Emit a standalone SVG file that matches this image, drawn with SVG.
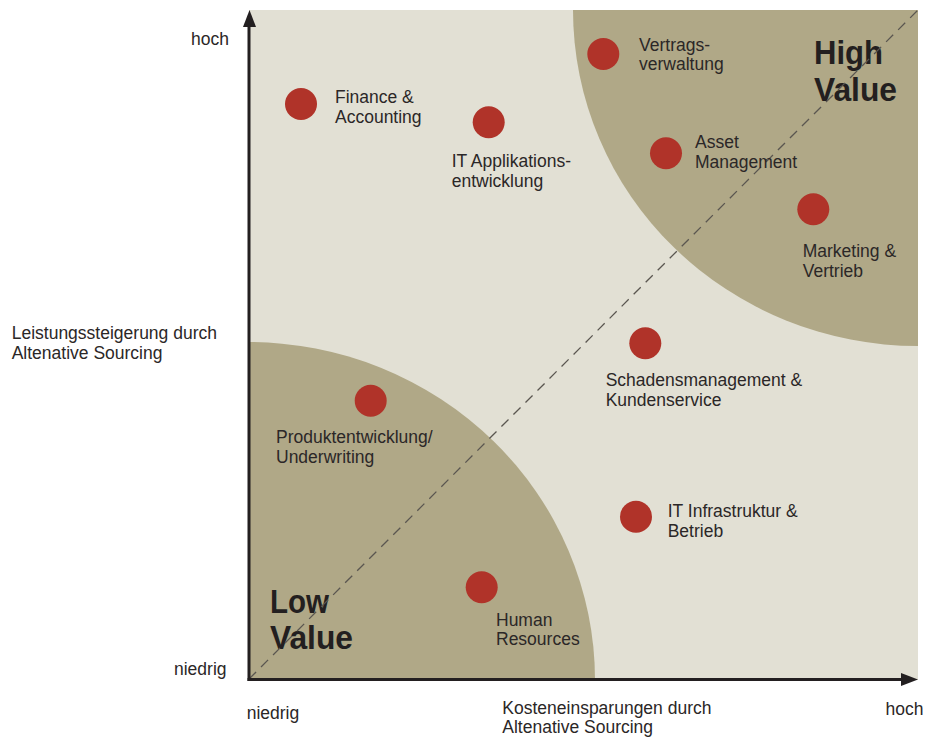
<svg xmlns="http://www.w3.org/2000/svg" width="925" height="739" viewBox="0 0 925 739">
  <style>
    .lbl { font-family: "Liberation Sans", Arial, sans-serif; font-size: 17.5px; fill: #2b2727; }
    .big { font-family: "Liberation Sans", Arial, sans-serif; font-size: 34px; font-weight: bold; fill: #231f20; }
    .dot { fill: #b03329; }
    .zone { fill: #b0a887; }
    .axis { stroke: #231f20; stroke-width: 3; fill: none; }
    .diag { stroke: #5a5650; stroke-width: 1.3; stroke-dasharray: 10 7; fill: none; }
  </style>
  <defs>
    <clipPath id="plotClip">
      <rect x="249" y="10" width="669" height="670"/>
    </clipPath>
  </defs>

  <rect x="0" y="0" width="925" height="739" fill="#ffffff"/>

  <!-- plot area -->
  <g id="plot">
    <rect x="249" y="10" width="669" height="670" fill="#e2e0d4"/>
    <g clip-path="url(#plotClip)">
      <ellipse class="zone" cx="918" cy="10" rx="345" ry="336"/>
      <ellipse class="zone" cx="248" cy="680" rx="347" ry="338"/>
    </g>
  </g>

  <!-- zone titles -->
  <g id="high-value">
    <text class="big" x="814" y="64" textLength="69" lengthAdjust="spacingAndGlyphs">High</text>
    <text class="big" x="814" y="101" textLength="83" lengthAdjust="spacingAndGlyphs">Value</text>
  </g>
  <g id="low-value">
    <text class="big" x="270" y="612.5" textLength="59" lengthAdjust="spacingAndGlyphs">Low</text>
    <text class="big" x="270" y="649" textLength="83" lengthAdjust="spacingAndGlyphs">Value</text>
  </g>

  <!-- connectors: diagonal and axes -->
  <g id="connectors">
    <line class="diag" x1="249" y1="679" x2="918" y2="10"/>
    <line class="axis" x1="249" y1="681" x2="249" y2="24"/>
    <polygon points="249.5,10 243,27 256,27" fill="#231f20"/>
    <line class="axis" x1="247.5" y1="679.5" x2="904" y2="679.5"/>
    <polygon points="918,679.5 901,673 901,686" fill="#231f20"/>
  </g>

  <!-- nodes -->
  <g id="finance-accounting">
    <circle class="dot" cx="301" cy="104" r="16"/>
    <text class="lbl" x="335" y="103.3">Finance &amp;</text>
    <text class="lbl" x="335" y="122.7">Accounting</text>
  </g>
  <g id="it-applikationsentwicklung">
    <circle class="dot" cx="488.7" cy="122.3" r="16"/>
    <text class="lbl" x="451.7" y="167.3">IT Applikations-</text>
    <text class="lbl" x="451.7" y="186.7">entwicklung</text>
  </g>
  <g id="vertragsverwaltung">
    <circle class="dot" cx="603.3" cy="54" r="16"/>
    <text class="lbl" x="639" y="50.7">Vertrags-</text>
    <text class="lbl" x="639" y="69.5">verwaltung</text>
  </g>
  <g id="asset-management">
    <circle class="dot" cx="666" cy="153.3" r="16"/>
    <text class="lbl" x="695" y="148.3">Asset</text>
    <text class="lbl" x="695" y="168.3">Management</text>
  </g>
  <g id="marketing-vertrieb">
    <circle class="dot" cx="813.3" cy="209.3" r="16"/>
    <text class="lbl" x="802.7" y="257.3">Marketing &amp;</text>
    <text class="lbl" x="802.7" y="276.7">Vertrieb</text>
  </g>
  <g id="schadensmanagement">
    <circle class="dot" cx="645.3" cy="343.3" r="16"/>
    <text class="lbl" x="605.7" y="385.7">Schadensmanagement &amp;</text>
    <text class="lbl" x="605.7" y="405.7">Kundenservice</text>
  </g>
  <g id="it-infrastruktur">
    <circle class="dot" cx="636" cy="516.7" r="16"/>
    <text class="lbl" x="667.7" y="517.3">IT Infrastruktur &amp;</text>
    <text class="lbl" x="667.7" y="537.3">Betrieb</text>
  </g>
  <g id="produktentwicklung">
    <circle class="dot" cx="370.7" cy="400.7" r="16"/>
    <text class="lbl" x="276" y="443.3">Produktentwicklung/</text>
    <text class="lbl" x="276" y="462.7">Underwriting</text>
  </g>
  <g id="human-resources">
    <circle class="dot" cx="481.7" cy="587.3" r="16"/>
    <text class="lbl" x="496" y="626">Human</text>
    <text class="lbl" x="496" y="645.3">Resources</text>
  </g>

  <!-- axis labels -->
  <g id="axis-labels">
    <text class="lbl" x="191" y="45">hoch</text>
    <text class="lbl" x="174" y="675">niedrig</text>
    <text class="lbl" x="11.7" y="339">Leistungssteigerung durch</text>
    <text class="lbl" x="11.7" y="359">Altenative Sourcing</text>
    <text class="lbl" x="246.7" y="719.3">niedrig</text>
    <text class="lbl" x="885.5" y="715">hoch</text>
    <text class="lbl" x="502.3" y="714">Kosteneinsparungen durch</text>
    <text class="lbl" x="502.3" y="733.3">Altenative Sourcing</text>
  </g>
</svg>
